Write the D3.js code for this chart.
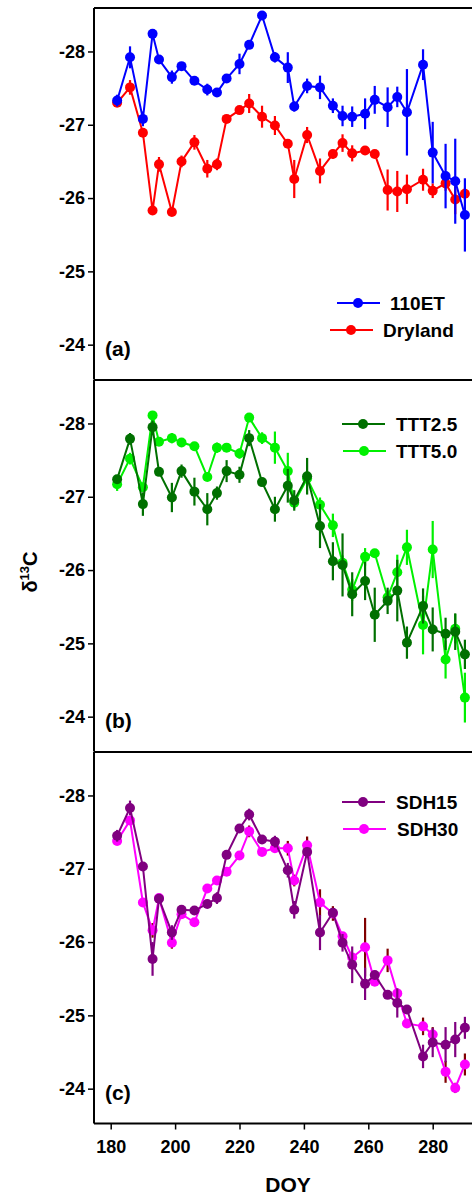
<!DOCTYPE html>
<html>
<head>
<meta charset="utf-8">
<script src="https://cdn.jsdelivr.net/npm/d3@7"></script>
<style>
  body { margin: 0; background: #fff; }
  svg { display: block; font-family: "Liberation Sans", Arial, sans-serif; font-weight: bold; }
</style>
</head>
<body>
<div id="chart"></div>
<script>
// sampling days (DOY)
const DOY = [182, 186, 190, 193, 195, 199, 202, 206, 210, 213, 216, 220, 223, 227, 231, 235,
  237, 241, 245, 249, 252, 255, 259, 262, 266, 269, 272, 277, 280, 284, 287, 290];

// panel (a)
const ET110 = [-27.33, -27.92, -27.08, -28.24, -27.89, -27.65, -27.80, -27.60, -27.48, -27.44, -27.63,
  -27.83, -28.09, -28.49, -27.92, -27.78, -27.25, -27.53, -27.51, -27.26, -27.12, -27.11, -27.15,
  -27.34, -27.24, -27.38, -27.17, -27.82, -26.62, -26.30, -26.23, -25.77];
const ET110_SE = [0.08, 0.15, 0.1, 0.03, 0.05, 0.09, 0.05, 0.05, 0.08, 0.05, 0.05, 0.14, 0.05, 0.05,
  0.07, 0.21, 0.07, 0.1, 0.16, 0.1, 0.14, 0.14, 0.21, 0.19, 0.27, 0.14, 0.59, 0.21, 0.42, 0.44, 0.58, 0.5];
const DRYLAND = [-27.30, -27.51, -26.89, -25.83, -26.46, -25.81, -26.50, -26.76, -26.40, -26.46, -27.08,
  -27.20, -27.29, -27.11, -26.99, -26.74, -26.26, -26.86, -26.37, -26.60, -26.75, -26.61, -26.65,
  -26.60, -26.11, -26.09, -26.12, -26.25, -26.10, -26.20, -25.98, -26.06];
const DRYLAND_SE = [0.05, 0.1, 0.05, 0.04, 0.1, 0.04, 0.08, 0.1, 0.12, 0.08, 0.04, 0.05, 0.13, 0.15,
  0.13, 0.05, 0.26, 0.11, 0.17, 0.06, 0.12, 0.11, 0.05, 0.05, 0.28, 0.28, 0.2, 0.15, 0.1, 0.1, 0.2, 0.08];

// panel (b)
const TTT25 = [-27.24, -27.79, -26.90, -27.95, -27.34, -26.99, -27.35, -27.07, -26.83, -27.05, -27.35,
  -27.30, -27.80, -27.20, -26.83, -27.15, -26.95, -27.28, -26.60, -26.12, -26.07, -25.67, -25.85,
  -25.39, -25.58, -25.72, -25.01, -25.51, -25.19, -25.13, -25.16, -24.85];
const TTT25_SE = [0.05, 0.08, 0.16, 0.09, 0.04, 0.2, 0.09, 0.19, 0.22, 0.09, 0.15, 0.11, 0.11, 0.04,
  0.17, 0.23, 0.14, 0.25, 0.3, 0.26, 0.43, 0.3, 0.26, 0.37, 0.18, 0.42, 0.22, 0.24, 0.3, 0.22, 0.25, 0.2];
const TTT50 = [-27.17, -27.52, -27.13, -28.11, -27.75, -27.80, -27.74, -27.69, -27.27, -27.67, -27.67,
  -27.59, -28.08, -27.80, -27.67, -27.35, -26.92, -27.25, -26.89, -26.61, -26.10, -25.73, -26.18,
  -26.23, -25.63, -25.97, -26.31, -25.25, -26.28, -24.78, -25.20, -24.26];
const TTT50_SE = [0.09, 0.08, 0.04, 0.04, 0.04, 0.07, 0.06, 0.04, 0.04, 0.07, 0.04, 0.07, 0.04, 0.08,
  0.22, 0.25, 0.08, 0.1, 0.1, 0.16, 0.1, 0.15, 0.12, 0.05, 0.09, 0.24, 0.24, 0.4, 0.39, 0.26, 0.2, 0.34];

// panel (c)
const SDH15 = [-27.45, -27.83, -27.03, -25.77, -26.59, -26.13, -26.44, -26.43, -26.52, -26.60, -27.19,
  -27.55, -27.74, -27.40, -27.37, -26.98, -26.44, -27.23, -26.13, -26.40, -25.99, -25.69, -25.43,
  -25.55, -25.28, -25.17, -25.08, -24.44, -24.63, -24.60, -24.67, -24.83];
const SDH15_SE = [0.08, 0.1, 0.05, 0.23, 0.05, 0.1, 0.04, 0.04, 0.05, 0.08, 0.05, 0.05, 0.08, 0.05,
  0.08, 0.1, 0.12, 0.05, 0.24, 0.06, 0.12, 0.25, 0.22, 0.06, 0.05, 0.2, 0.06, 0.16, 0.2, 0.24, 0.24, 0.15];
const SDH30 = [-27.38, -27.66, -26.54, -26.16, -26.60, -25.99, -26.38, -26.27, -26.73, -26.84, -26.96,
  -27.18, -27.51, -27.23, -27.28, -27.28, -26.84, -27.32, -26.54, -26.39, -26.08, -25.79, -25.93,
  -25.46, -25.75, -25.30, -24.89, -24.85, -24.74, -24.23, -24.01, -24.33];
const SDH30_SE = [0.05, 0.05, 0.05, 0.1, 0.05, 0.08, 0.04, 0.04, 0.04, 0.04, 0.05, 0.04, 0.08, 0.04,
  0.04, 0.1, 0.08, 0.12, 0.18, 0.1, 0.05, 0.05, 0.4, 0.05, 0.16, 0.05, 0.05, 0.12, 0.1, 0.15, 0.07, 0.15];

const Y_TICKS = [-28, -27, -26, -25, -24];
const X_TICKS = [180, 200, 220, 240, 260, 280];

const PANELS = [
  { tag: '(a)', top: 8, legendY: 303, series: [
    { name: '110ET', values: ET110, se: ET110_SE, color: '#0000ff', bar: '#0000ff', lx: 337, tx: 390 },
    { name: 'Dryland', values: DRYLAND, se: DRYLAND_SE, color: '#ff0000', bar: '#ff0000', lx: 330, tx: 383 },
  ]},
  { tag: '(b)', top: 380, legendY: 424, series: [
    { name: 'TTT2.5', values: TTT25, se: TTT25_SE, color: '#007000', bar: '#007000', lx: 342, tx: 396 },
    { name: 'TTT5.0', values: TTT50, se: TTT50_SE, color: '#00f000', bar: '#00f000', lx: 343, tx: 396 },
  ]},
  { tag: '(c)', top: 752, legendY: 802, series: [
    { name: 'SDH15', values: SDH15, se: SDH15_SE, color: '#800080', bar: '#800080', lx: 342, tx: 396 },
    { name: 'SDH30', values: SDH30, se: SDH30_SE, color: '#ff00ff', bar: '#800000', lx: 343, tx: 397 },
  ]},
];

const W = 472, H = 1197;
const LEFT = 94, PANEL_H = 371.5;
const FONT = '"Liberation Sans", Arial, sans-serif';

const svg = d3.select('#chart').append('svg')
  .attr('width', W).attr('height', H);

svg.append('defs').append('clipPath').attr('id', 'plot-clip')
  .append('rect').attr('x', LEFT).attr('y', 0).attr('width', W - LEFT).attr('height', H);

const x = d3.scaleLinear().domain([175, 295]).range([94.6, 94.6 + 120 * 3.22]);

PANELS.forEach((p, i) => {
  const y = d3.scaleLinear()
    .domain([-28.593, -28.593 + PANEL_H / 73.3])
    .range([p.top, p.top + PANEL_H]);

  const g = svg.append('g');

  // y axis with outward ticks, plain hyphen minus
  const yAxis = g.append('g')
    .attr('transform', `translate(${LEFT},0)`)
    .call(d3.axisLeft(y).tickValues(Y_TICKS).tickSize(6).tickPadding(3).tickFormat(d => String(d)));
  yAxis.select('.domain').remove();
  yAxis.selectAll('line').attr('stroke', '#000').attr('stroke-width', 1.5);
  yAxis.selectAll('text')
    .attr('fill', '#000')
    .attr('font-size', '18px')
    .attr('font-family', FONT)
    .attr('font-weight', 'bold');

  // frame: left edge and top edge
  g.append('line')
    .attr('x1', LEFT).attr('x2', LEFT)
    .attr('y1', p.top).attr('y2', p.top + PANEL_H)
    .attr('stroke', '#000').attr('stroke-width', 2);
  g.append('line')
    .attr('x1', LEFT).attr('x2', W)
    .attr('y1', p.top).attr('y2', p.top)
    .attr('stroke', '#000').attr('stroke-width', 2);

  const plot = g.append('g').attr('clip-path', 'url(#plot-clip)');

  // second series underneath, first on top
  p.series.slice().reverse().forEach(s => {
    const pts = DOY.map((d, k) => ({ d, v: s.values[k], e: s.se[k] }));
    const sg = plot.append('g');

    sg.selectAll('line.err').data(pts).enter().append('line')
      .attr('class', 'err')
      .attr('x1', d => x(d.d)).attr('x2', d => x(d.d))
      .attr('y1', d => y(d.v - d.e)).attr('y2', d => y(d.v + d.e))
      .attr('stroke', s.bar).attr('stroke-width', 2.2);

    sg.append('path')
      .datum(pts)
      .attr('fill', 'none')
      .attr('stroke', s.color)
      .attr('stroke-width', 2)
      .attr('d', d3.line().x(d => x(d.d)).y(d => y(d.v)));

    sg.selectAll('circle').data(pts).enter().append('circle')
      .attr('cx', d => x(d.d)).attr('cy', d => y(d.v))
      .attr('r', 5)
      .attr('fill', s.color);
  });

  // legend
  p.series.forEach((s, k) => {
    const ly = p.legendY + k * 27;
    g.append('line')
      .attr('x1', s.lx).attr('x2', s.lx + 43)
      .attr('y1', ly).attr('y2', ly)
      .attr('stroke', s.color).attr('stroke-width', 2);
    g.append('circle')
      .attr('cx', s.lx + 21).attr('cy', ly)
      .attr('r', 5).attr('fill', s.color);
    g.append('text')
      .attr('x', s.tx).attr('y', ly + 6.5)
      .attr('font-size', '19px')
      .attr('fill', '#000')
      .text(s.name);
  });

  g.append('text')
    .attr('x', 105).attr('y', p.top + PANEL_H - 24)
    .attr('font-size', '21px')
    .attr('fill', '#000')
    .text(p.tag);

  // x axis only under the last panel
  if (i === PANELS.length - 1) {
    const bottom = p.top + PANEL_H;
    const xAxis = g.append('g')
      .attr('transform', `translate(0,${bottom})`)
      .call(d3.axisBottom(x).tickValues(X_TICKS).tickSize(6).tickPadding(11).tickFormat(d => String(d)));
    xAxis.select('.domain').remove();
    xAxis.selectAll('line').attr('stroke', '#000').attr('stroke-width', 1.5);
    xAxis.selectAll('text')
      .attr('fill', '#000')
      .attr('font-size', '18px')
      .attr('font-family', FONT)
      .attr('font-weight', 'bold');
    g.append('line')
      .attr('x1', LEFT).attr('x2', W)
      .attr('y1', bottom).attr('y2', bottom)
      .attr('stroke', '#000').attr('stroke-width', 2);
  }
});

// axis titles
svg.append('text')
  .attr('x', 288).attr('y', 1192)
  .attr('text-anchor', 'middle')
  .attr('font-size', '21px')
  .attr('fill', '#000')
  .text('DOY');

const yTitle = svg.append('text')
  .attr('transform', 'translate(37,572) rotate(-90)')
  .attr('text-anchor', 'middle')
  .attr('font-size', '20px')
  .attr('fill', '#000');
yTitle.append('tspan').text('δ');
yTitle.append('tspan').attr('font-size', '13px').attr('dy', -8).text('13');
yTitle.append('tspan').attr('dy', 8).text('C');
</script>
</body>
</html>
